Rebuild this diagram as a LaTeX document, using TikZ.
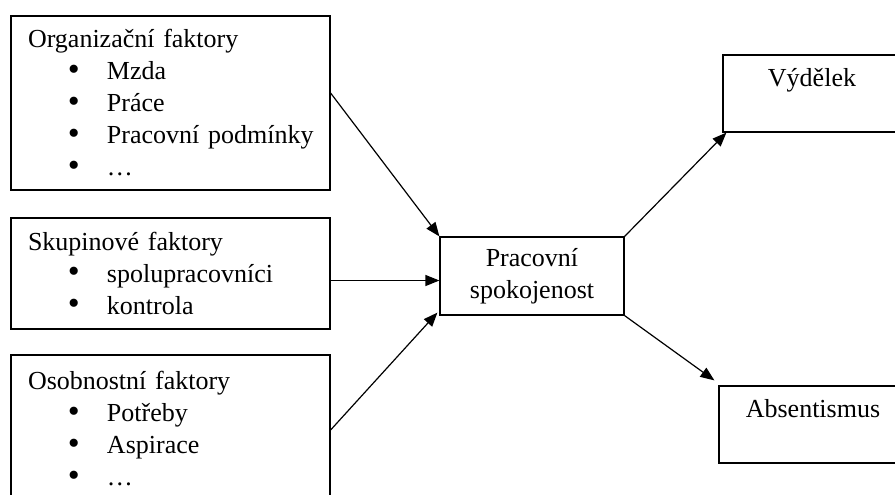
\documentclass[tikz,border=0pt]{standalone}
\usepackage{fontspec}
\setmainfont{Liberation Serif}
\usetikzlibrary{arrows.meta,positioning}

\newcommand{\bitem}[1]{\mbox{\hspace*{20pt}\makebox[19.5pt][l]{\raisebox{-0.3pt}{\fontsize{17}{16}\selectfont\textbullet}}#1}}

\begin{document}
\begin{tikzpicture}[x=0.5pt, y=-0.5pt, >={Triangle[length=7pt,width=5.5pt]},
  every node/.style={font=\fontsize{13}{16}\selectfont},
  factor/.style={draw, line width=0.6pt, rectangle, inner xsep=8.5pt,
    text width=142.5pt, align=left},
  result/.style={draw, line width=0.6pt, rectangle, align=center}]
  \useasboundingbox (0,0) rectangle (895,494);
  \clip (0,0) rectangle (895,494);

  \node[factor, minimum height=87pt] (org) at (170.5,103)
    {Organizační faktory\\ \bitem{Mzda}\\ \bitem{Práce}\\
     \bitem{Pracovní podmínky}\\ \bitem{…}};
  \node[factor, minimum height=55.5pt] (grp) at (170.5,273.5)
    {Skupinové faktory\\ \bitem{spolupracovníci}\\ \bitem{kontrola}};
  \node[factor, minimum height=74pt] (osob) at (170.5,429)
    {Osobnostní faktory\\ \bitem{Potřeby}\\ \bitem{Aspirace}\\ \bitem{…}};

  \node[result, minimum width=92pt, minimum height=39pt] (sat) at (532,276)
    {Pracovní\\ spokojenost};
  \node[result, minimum width=89pt, minimum height=38.5pt] (vyd) at (812,93.5)
    {Výdělek\\ \mbox{}};
  \node[result, minimum width=94pt, minimum height=38.5pt] (abs) at (813,424.5)
    {Absentismus\\ \mbox{}};

  \draw[->, line width=0.6pt] ([yshift=5pt]org.east) -- (sat.north west);
  \draw[->, line width=0.6pt] ([yshift=-3.5pt]grp.east) -- ([yshift=-3.5pt]grp.east -| sat.west);
  \draw[->, line width=0.6pt] ([yshift=-0.5pt]osob.east) -- ([xshift=-1pt,yshift=1.5pt]sat.south west);
  \draw[->, line width=0.6pt] (sat.north east) -- ([xshift=2pt]vyd.south west);
  \draw[->, line width=0.6pt] (sat.south east) -- ([xshift=-2pt,yshift=2.5pt]abs.north west);
\end{tikzpicture}
\end{document}
